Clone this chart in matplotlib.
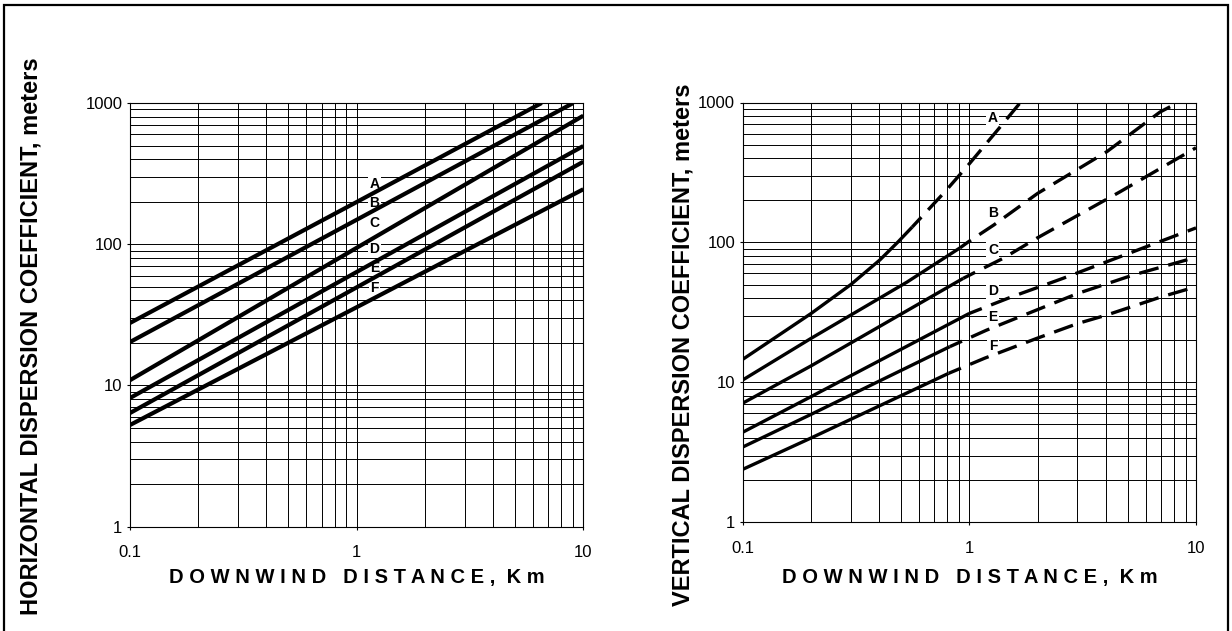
import numpy as np
import matplotlib
matplotlib.use("Agg")
import matplotlib.pyplot as plt
from matplotlib.patches import Rectangle
from matplotlib.ticker import FixedLocator, FixedFormatter, NullFormatter

plt.rcParams['font.family'] = ['Liberation Sans', 'DejaVu Sans']

classes = ['A', 'B', 'C', 'D', 'E', 'F']

# horizontal dispersion (left) - straight lines, downwind km vs meters
hx_A, hy_A = [0.1, 1.0, 6.55], [27.7, 199, 1000]
hx_B, hy_B = [0.1, 1.0, 9.03], [20.3, 149, 1000]
hx_C, hy_C = [0.1, 1.0, 10.0], [10.9, 94.3, 813]
hx_D, hy_D = [0.1, 1.0, 10.0], [8.15, 63.6, 496]
hx_E, hy_E = [0.1, 1.0, 10.0], [6.38, 49.5, 384]
hx_F, hy_F = [0.1, 1.0, 10.0], [5.25, 35.8, 245]

# vertical dispersion (right)
vx_A = [0.1, 0.2, 0.3, 0.403, 0.485, 0.56, 0.78, 0.99, 1.37, 1.68]
vy_A = [14.6, 31, 50, 75, 101, 129, 230, 358, 671, 1000]
vx_B = [0.1, 0.2, 0.53, 0.91, 0.99, 1.28, 2.0, 4.04, 6.94, 8.35]
vy_B = [10.4, 20.6, 52, 91.5, 101, 133, 224, 445, 855, 1000]
vx_C = [0.1, 0.2, 0.94, 1.04, 1.41, 1.98, 4.62, 10.0]
vy_C = [7.1, 13.1, 55.4, 60.2, 77, 107, 230, 475]
vx_D = [0.1, 0.2, 1.0, 1.54, 2.59, 4.04, 10.0]
vy_D = [4.4, 7.9, 31.1, 40.9, 55.4, 72.8, 127]
vx_E = [0.1, 0.2, 0.82, 1.19, 3.02, 5.28, 10.0]
vy_E = [3.45, 5.9, 18, 23.6, 43.3, 58.5, 78.3]
vx_F = [0.1, 0.2, 0.81, 1.17, 1.98, 3.02, 4.04, 7.05, 10.0]
vy_F = [2.39, 4.0, 11.6, 14.9, 20.6, 26.4, 30.3, 40.9, 48.2]
# solid part ends here, dashed afterwards
v_solid_end = [0.56, 0.91, 0.94, 1.0, 0.82, 0.81]

# curve letter positions
h_lab_x = 1.2
h_lab_y = [267, 196, 141, 92.5, 67.9, 49]
v_lab_x = 1.27
v_lab_y = [771, 161, 88.3, 45.2, 29.4, 18.2]

xticks = [0.1, 1, 10]
xticklabels = ['0.1', '1', '10']
yticks = [1, 10, 100, 1000]
yticklabels = ['1', '10', '100', '1000']
xlabel = 'D O W N W I N D   D I S T A N C E ,  K m'

W, H = 1232, 631
fig = plt.figure(figsize=(W / 100, H / 100), dpi=100)
ax1 = fig.add_axes([130 / W, 1 - 526.7 / H, 453.3 / W, 423.7 / H])
ax2 = fig.add_axes([742.7 / W, 1 - 522.3 / H, 453.3 / W, 419.8 / H])

for ax in (ax1, ax2):
    ax.set_xscale('log')
    ax.set_yscale('log')
    ax.set_xlim(0.1, 10)
    ax.set_ylim(1, 1000)
    ax.grid(True, which='both', color='black', lw=0.7)
    ax.xaxis.set_major_locator(FixedLocator(xticks))
    ax.xaxis.set_major_formatter(FixedFormatter(xticklabels))
    ax.yaxis.set_major_locator(FixedLocator(yticks))
    ax.yaxis.set_major_formatter(FixedFormatter(yticklabels))
    ax.xaxis.set_minor_formatter(NullFormatter())
    ax.yaxis.set_minor_formatter(NullFormatter())
    ax.tick_params(which='major', length=2.5, width=0.8, labelsize=12)
    ax.tick_params(which='minor', length=0)
    ax.tick_params(axis='x', pad=11)
    ax.tick_params(axis='y', pad=3)
    for s in ax.spines.values():
        s.set_linewidth(0.8)
    # axis title placed at the same height for both panels
    pos = ax.get_position()
    fig.text(pos.x0 + pos.width / 2, 1 - 577 / H, xlabel, ha='center', va='center',
             fontsize=14.5, fontweight='bold')

hx = [hx_A, hx_B, hx_C, hx_D, hx_E, hx_F]
hy = [hy_A, hy_B, hy_C, hy_D, hy_E, hy_F]
for x, y in zip(hx, hy):
    ax1.plot(x, y, color='black', lw=3, solid_capstyle='butt', zorder=4)
for c, ly in zip(classes, h_lab_y):
    ax1.text(h_lab_x, ly, c, ha='center', va='center', fontsize=10, fontweight='bold',
             bbox=dict(fc='white', ec='none', pad=1), zorder=3)

vx = [vx_A, vx_B, vx_C, vx_D, vx_E, vx_F]
vy = [vy_A, vy_B, vy_C, vy_D, vy_E, vy_F]
for x, y, xe in zip(vx, vy, v_solid_end):
    x, y = np.array(x), np.array(y)
    s = x <= xe
    d = x >= xe
    ax2.plot(x[s], y[s], color='black', lw=2.4, solid_capstyle='butt', zorder=4)
    ax2.plot(x[d], y[d], color='black', lw=2.4, ls=(2, (6, 3)), dash_capstyle='butt', zorder=4)
for c, ly in zip(classes, v_lab_y):
    ax2.text(v_lab_x, ly, c, ha='center', va='center', fontsize=10, fontweight='bold',
             bbox=dict(fc='white', ec='none', pad=1), zorder=3)

fig.text(31 / W, 1 - 336 / H, 'HORIZONTAL DISPERSION COEFFICIENT, meters', rotation=90,
         ha='center', va='center', fontsize=17, fontweight='bold')
fig.text(683 / W, 1 - 345 / H, 'VERTICAL DISPERSION COEFFICIENT, meters', rotation=90,
         ha='center', va='center', fontsize=17, fontweight='bold')

fig.patches.append(Rectangle((4 / W, -0.02), 1224 / W, 1.02 - 5 / H, transform=fig.transFigure,
                             fill=False, ec='black', lw=1.6))

fig.savefig('out.png', dpi=100)
